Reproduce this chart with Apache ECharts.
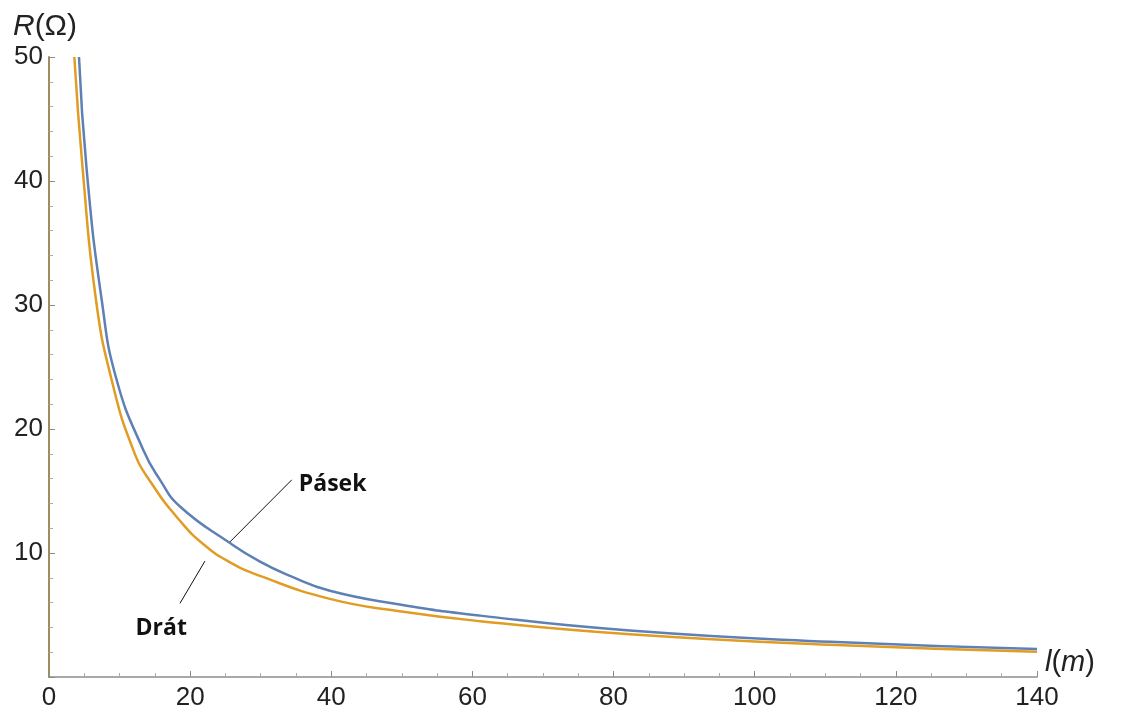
<!DOCTYPE html>
<html>
<head>
<meta charset="utf-8">
<script src="https://cdn.jsdelivr.net/npm/echarts@6/dist/echarts.min.js"></script>
<style>
html,body{margin:0;padding:0;background:#fff;}
#chart{width:1135px;height:715px;}
</style>
</head>
<body>
<div id="chart"></div>
<script>
// Data: [l (m), R (Ω)]
const pasekL = [4.25, 5.34, 7.47, 9.59, 13.36, 15.73, 18.56, 25.65, 29.9, 34.15, 39.8, 49.7, 61.1, 82.3, 110.7, 140];
const pasekR = [50, 40.9, 30.4, 23.95, 18.3, 15.9, 13.75, 10.8, 9.3, 8.15, 6.95, 5.85, 4.95, 3.75, 2.84, 2.26];
const dratL = [3.59, 4.78, 6.66, 8.88, 11.95, 14.55, 18.56, 22.1, 25.65, 29.9, 39.8, 49.7, 61.1, 82.3, 110.7, 140];
const dratR = [50, 40.9, 30.4, 23.95, 18.3, 15.6, 12.6, 10.6, 9.25, 8.15, 6.3, 5.3, 4.5, 3.45, 2.6, 2.04];
const xTicks = [0, 20, 40, 60, 80, 100, 120, 140];
const yTicks = [10, 20, 30, 40, 50];
// annotation anchors (data coordinates)
const pasekPointer = [[34.4, 15.9], [25.65, 10.9]];
const pasekLabelAt = [35.4, 15.5];
const dratPointer = [[22.1, 9.35], [18.56, 5.94]];
const dratLabelAt = [15.9, 3.95];

const zip = (a, b) => a.map((v, i) => [v, b[i]]);

const chart = echarts.init(document.getElementById('chart'), null, {renderer: 'canvas'});
const axisFont = {fontFamily: 'Liberation Sans, Arial, sans-serif', fontSize: 26, color: '#222'};

chart.setOption({
  animation: false,
  backgroundColor: '#ffffff',
  grid: {left: 49, right: 98, top: 57, bottom: 38, containLabel: false},
  xAxis: {
    type: 'value', min: 0, max: 140, interval: 20,
    name: '{i|l}{n|(}{i|m}{n|)}',
    nameLocation: 'end', nameGap: 8,
    nameTextStyle: {
      verticalAlign: 'bottom',
      rich: {
        i: {fontFamily: 'Liberation Sans, Arial, sans-serif', fontSize: 29, fontStyle: 'italic', color: '#222'},
        n: {fontFamily: 'Liberation Sans, Arial, sans-serif', fontSize: 29, color: '#222'}
      }
    },
    axisLine: {show: true, onZero: false, lineStyle: {color: '#8c8c8c', width: 1.5}},
    axisTick: {show: true, inside: true, length: 6, lineStyle: {color: '#8c8c8c'}},
    minorTick: {show: true, splitNumber: 4, length: 4, lineStyle: {color: '#aaa'}},
    axisLabel: Object.assign({margin: 8, formatter: v => xTicks.includes(v) ? String(v) : ''}, axisFont),
    splitLine: {show: false}
  },
  yAxis: {
    type: 'value', min: 0, max: 50, interval: 10,
    name: '{i|R}{n|(Ω)}',
    nameLocation: 'end', nameGap: 15,
    nameTextStyle: {
      align: 'center',
      padding: [0, 8, 0, 0],
      rich: {
        i: {fontFamily: 'Liberation Sans, Arial, sans-serif', fontSize: 30, fontStyle: 'italic', color: '#222'},
        n: {fontFamily: 'Liberation Sans, Arial, sans-serif', fontSize: 30, color: '#222'}
      }
    },
    axisLine: {show: true, onZero: false, lineStyle: {color: '#a08c5c', width: 2}},
    axisTick: {show: true, inside: true, length: 6, lineStyle: {color: '#8c8c8c'}},
    minorTick: {show: true, splitNumber: 5, length: 4, lineStyle: {color: '#aaa'}},
    axisLabel: Object.assign({margin: 6, showMinLabel: false, formatter: v => yTicks.includes(v) ? String(v) : ''}, axisFont),
    splitLine: {show: false}
  },
  series: [
    {
      name: 'Drát', type: 'line', data: zip(dratL, dratR),
      showSymbol: false, smooth: 0.5, clip: true,
      lineStyle: {color: '#E19C24', width: 2.5},
      markLine: {
        silent: true, symbol: ['none', 'none'], label: {show: false},
        lineStyle: {color: '#111', width: 1, type: 'solid'},
        data: [[{coord: dratPointer[0]}, {coord: dratPointer[1]}]]
      },
      markPoint: {
        silent: true, symbol: 'circle', symbolSize: 0,
        label: {show: true, formatter: 'Drát', position: 'inside', fontFamily: 'Open Sans, sans-serif', fontWeight: 'bold', fontSize: 23, color: '#111'},
        data: [{coord: dratLabelAt}]
      }
    },
    {
      name: 'Pásek', type: 'line', data: zip(pasekL, pasekR),
      showSymbol: false, smooth: 0.5, clip: true,
      lineStyle: {color: '#5E81B5', width: 2.5},
      markLine: {
        silent: true, symbol: ['none', 'none'], label: {show: false},
        lineStyle: {color: '#111', width: 1, type: 'solid'},
        data: [[{coord: pasekPointer[0]}, {coord: pasekPointer[1]}]]
      },
      markPoint: {
        silent: true, symbol: 'circle', symbolSize: 0,
        label: {show: true, formatter: 'Pásek', position: 'right', distance: 0, fontFamily: 'Open Sans, sans-serif', fontWeight: 'bold', fontSize: 23, color: '#111'},
        data: [{coord: pasekLabelAt}]
      }
    }
  ]
});
</script>
</body>
</html>
